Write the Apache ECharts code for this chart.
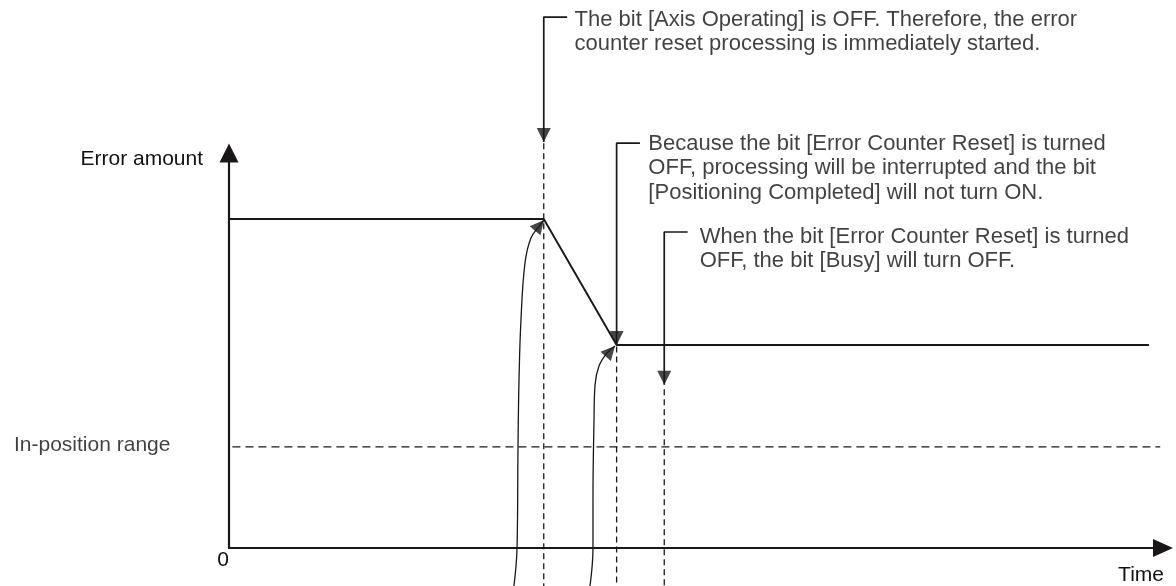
<!DOCTYPE html>
<html>
<head>
<meta charset="utf-8">
<script src="https://cdn.jsdelivr.net/npm/echarts@6/dist/echarts.min.js"></script>
<style>
html,body{margin:0;padding:0;background:#fff;}
#chart{width:1176px;height:586px;}
</style>
</head>
<body>
<div id="chart"></div>
<script>
// ---- data (diagram units: time 0..100, error amount 0..100) ----
const errorTime   = [0, 33.7, 41.5, 98.5];
const errorAmount = [83.3, 83.3, 51.4, 51.4];

const inPositionTime  = [-5.2, 99.7];
const inPositionLevel = 25.6;

const eventTimes    = [33.7, 41.5, 46.6];
const eventDashTop  = [102.5, 51.0, 40.2];
const bottomLevel   = -9.62;

const calloutLevel     = [134.4, 102.5, 80.0];
const calloutBracketTo = [36.2, 44.0, 49.1];
const calloutTipLevel  = [102.8, 51.4, 41.3];
const calloutTextTime  = [37.0, 44.9, 50.4];
const calloutTextLevel = [136.8, 105.4, 81.9];
const calloutTexts = [
  'The bit [Axis Operating] is OFF. Therefore, the error\ncounter reset processing is immediately started.',
  'Because the bit [Error Counter Reset] is turned\nOFF, processing will be interrupted and the bit\n[Positioning Completed] will not turn ON.',
  'When the bit [Error Counter Reset] is turned\nOFF, the bit [Busy] will turn OFF.'
];

const curve1Time  = [30.51, 30.84, 30.94, 31.05, 31.26, 31.69, 32.33, 33.30, 33.73];
const curve1Level = [-9.62, 0, 24.81, 42.53, 57.72, 72.15, 78.48, 81.77, 83.04];
const curve2Time  = [38.65, 38.97, 38.97, 39.08, 39.19, 39.61, 40.47, 41.33];
const curve2Level = [-9.62, 0, 12.15, 32.41, 41.27, 46.08, 49.37, 51.14];

const axisNames = { x: 'Time', y: 'Error amount', level: 'In-position range', origin: '0' };

// ---- styles ----
const ink = '#1a1718';
const textInk = '#111';
const font = 'Liberation Sans, Arial, Helvetica, sans-serif';
const fsz = 21;
const noteSize = 22;

const zip = (a, b) => a.map((v, i) => [v, b[i]]);

const series = [];
series.push({
  type: 'line', data: zip(errorTime, errorAmount), symbol: 'none', clip: false,
  lineStyle: { color: ink, width: 1.9 }, z: 3
});
series.push({
  type: 'line', data: inPositionTime.map(t => [t, inPositionLevel]), symbol: 'none', clip: false,
  lineStyle: { color: ink, width: 1.4, type: [8, 5] }, z: 3
});
eventTimes.forEach((t, i) => {
  series.push({
    type: 'line', data: [[t, eventDashTop[i]], [t, bottomLevel]], symbol: 'none', clip: false,
    lineStyle: { color: ink, width: 1.3, type: [6, 4] }, z: 3
  });
  series.push({
    type: 'line', data: [[calloutBracketTo[i], calloutLevel[i]], [t, calloutLevel[i]], [t, calloutTipLevel[i]]],
    symbol: 'none', clip: false, lineStyle: { color: ink, width: 1.7 }, z: 3
  });
});
[[curve1Time, curve1Level], [curve2Time, curve2Level]].forEach(([ts, ls]) => {
  series.push({
    type: 'line', data: zip(ts, ls), symbol: 'none', clip: false, smooth: 0.4,
    lineStyle: { color: ink, width: 1.3 }, z: 3
  });
});
// arrowheads
const heads = eventTimes.map((t, i) => ({
  value: [t, calloutTipLevel[i]], symbolRotate: 180, symbolOffset: [0, -7]
}));
heads.push({ value: [curve1Time[curve1Time.length - 1], curve1Level[curve1Level.length - 1]], symbolRotate: -40, symbolOffset: [-4.5, 5.4] });
heads.push({ value: [curve2Time[curve2Time.length - 1], curve2Level[curve2Level.length - 1]], symbolRotate: -42, symbolOffset: [-4.7, 5.2] });
series.push({
  type: 'scatter', data: heads, symbol: 'triangle', symbolSize: [14, 14], clip: false,
  itemStyle: { color: ink }, z: 4, silent: true
});
// text
const textItems = calloutTexts.map((s, i) => ({
  value: [calloutTextTime[i], calloutTextLevel[i]],
  label: { show: true, formatter: s, position: 'right', distance: 0, align: 'left', verticalAlign: 'top',
           lineHeight: 24.5, fontSize: noteSize, fontFamily: font, color: textInk }
}));
textItems.push({
  value: [inPositionTime[0], inPositionLevel],
  label: { show: true, formatter: axisNames.level, position: 'left', distance: 10, offset: [0, -1.5],
           fontSize: fsz, fontFamily: font, color: textInk }
});
series.push({ type: 'scatter', data: textItems, symbolSize: 0, clip: false, silent: true, z: 5 });

const chart = echarts.init(document.getElementById('chart'), null, { renderer: 'canvas' });
chart.setOption({
  animation: false,
  backgroundColor: '#fff',
  textStyle: { fontFamily: font, color: textInk },
  grid: { left: 229, right: 13, top: 153, bottom: 38, containLabel: false },
  xAxis: {
    type: 'value', min: 0, max: 100, interval: 100,
    name: axisNames.x, nameLocation: 'end', nameGap: 1,
    nameTextStyle: { align: 'right', verticalAlign: 'top', padding: [17, 0, 0, 0], fontSize: fsz, fontFamily: font, color: textInk },
    axisLine: { show: true, symbol: ['none', 'triangle'], symbolSize: [18, 20], lineStyle: { color: ink, width: 2.2 } },
    axisTick: { show: false }, splitLine: { show: false },
    axisLabel: { show: true, margin: 2, padding: [0, 12, 0, 0], fontSize: fsz, fontFamily: font, color: textInk,
                 formatter: v => (v === 0 ? axisNames.origin : '') }
  },
  yAxis: {
    type: 'value', min: 0, max: 100,
    name: axisNames.y, nameLocation: 'end', nameGap: -6,
    nameTextStyle: { align: 'right', verticalAlign: 'middle', padding: [0, 26, 0, 0], fontSize: fsz, fontFamily: font, color: textInk },
    axisLine: { show: true, symbol: ['none', 'triangle'], symbolSize: [19, 19], lineStyle: { color: ink, width: 2.2 } },
    axisTick: { show: false }, splitLine: { show: false }, axisLabel: { show: false }
  },
  series: series
});
</script>
</body>
</html>
